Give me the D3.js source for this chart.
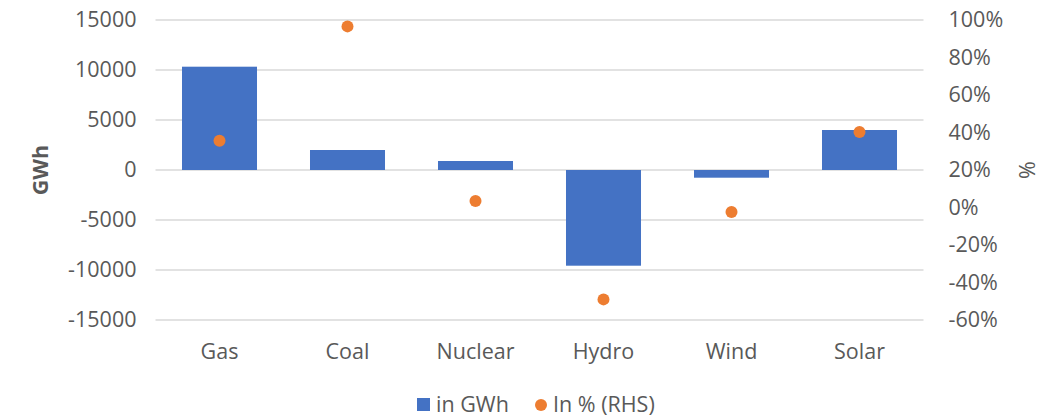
<!DOCTYPE html>
<html><head><meta charset="utf-8">
<script src="https://cdn.jsdelivr.net/npm/d3@7"></script>
<style>body{margin:0;background:#fff;} text{font-family:"Open Sans",Lato,sans-serif;fill:#595959;}</style>
</head><body><svg id="c" width="1060" height="420"></svg>
<script>
const categories = ["Gas","Coal","Nuclear","Hydro","Wind","Solar"];
const gwh = [10330, 2000, 900, -9570, -770, 4000];
const pct = [35.6, 96.6, 3.5, -49.0, -2.4, 40.3];
const leftTicks = [15000,10000,5000,0,-5000,-10000,-15000];
const rightTicks = [100,80,60,40,20,0,-20,-40,-60];

const svg = d3.select("#c");
const x0 = 155.5, x1 = 923.5, yTop = 20, yBot = 320;
const fs = "21.5px";
const x = d3.scaleBand().domain(categories).range([x0,x1]).paddingInner(0.414).paddingOuter(0.207);
const yL = d3.scaleLinear().domain([-15000,15000]).range([yBot,yTop]);
const yR = d3.scaleLinear().domain([-60,100]).range([yBot,yTop]);

// gridlines
svg.append("g").selectAll("line").data(leftTicks).join("line")
  .attr("x1",x0).attr("x2",x1).attr("y1",d=>yL(d)).attr("y2",d=>yL(d))
  .attr("stroke","#d9d9d9").attr("stroke-width",1.5);

// left axis
const la = svg.append("g").attr("transform",`translate(${x0},0)`)
  .call(d3.axisLeft(yL).tickValues(leftTicks).tickSize(0).tickPadding(19).tickFormat(d=>String(d)));
la.select(".domain").remove();
la.selectAll("text").style("font-size",fs).attr("fill","#595959");

// right axis
const ra = svg.append("g").attr("transform",`translate(${x1},0)`)
  .call(d3.axisRight(yR).tickValues(rightTicks).tickSize(0).tickPadding(25).tickFormat(d=>String(d)+"%"));
ra.select(".domain").remove();
ra.selectAll("text").style("font-size",fs).attr("fill","#595959");

// bars
svg.append("g").selectAll("rect").data(categories).join("rect")
  .attr("x",d=>x(d)).attr("width",x.bandwidth())
  .attr("y",(d,i)=>Math.min(yL(gwh[i]),yL(0)))
  .attr("height",(d,i)=>Math.abs(yL(gwh[i])-yL(0)))
  .attr("fill","#4472c4");

// dots
svg.append("g").selectAll("circle").data(categories).join("circle")
  .attr("cx",d=>x(d)+x.bandwidth()/2).attr("cy",(d,i)=>yR(pct[i])).attr("r",6)
  .attr("fill","#ed7d31");

// category labels
const xa = svg.append("g").attr("transform",`translate(0,${yBot})`)
  .call(d3.axisBottom(x).tickSize(0).tickPadding(24));
xa.select(".domain").remove();
xa.selectAll("text").style("font-size",fs).attr("fill","#595959");

// axis titles
svg.append("text").attr("transform","translate(48,170) rotate(-90)").attr("text-anchor","middle")
  .style("font-size",fs).style("font-weight","bold").text("GWh");
svg.append("text").attr("transform","translate(1035,170) rotate(-90)").attr("text-anchor","middle")
  .style("font-size",fs).text("%");

// legend
const lg = svg.append("g");
lg.append("rect").attr("x",417).attr("y",398).attr("width",13).attr("height",13).attr("fill","#4472c4");
lg.append("text").attr("x",436).attr("y",412).style("font-size",fs).text("in GWh");
lg.append("circle").attr("cx",541).attr("cy",405).attr("r",6).attr("fill","#ed7d31");
lg.append("text").attr("x",553).attr("y",412).style("font-size",fs).text("In % (RHS)");
</script></body></html>
